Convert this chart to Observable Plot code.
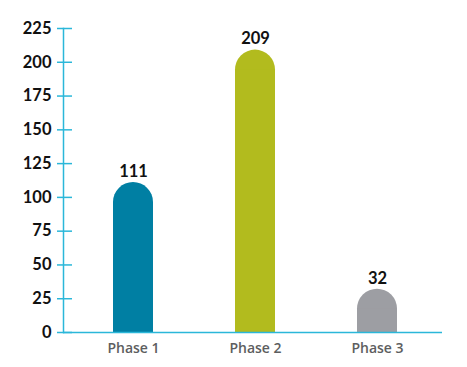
<!DOCTYPE html>
<html>
<head>
<meta charset="utf-8">
<script src="https://cdn.jsdelivr.net/npm/d3@7"></script>
<script src="https://cdn.jsdelivr.net/npm/@observablehq/plot@0.6"></script>
<style>
  html, body { margin: 0; padding: 0; background: #fff; }
</style>
</head>
<body>
<div id="chart"></div>
<script>
const phases = ["Phase 1", "Phase 2", "Phase 3"];
const values = [111, 209, 32];
const colors = ["#007fa3", "#b2bb1e", "#9d9ea3"];
const yTicks = [0, 25, 50, 75, 100, 125, 150, 175, 200, 225];

const data = phases.map((p, i) => ({phase: p, value: values[i], color: colors[i]}));
const axisColor = "#2bb7d9";

const chart = Plot.plot({
  width: 467,
  height: 367,
  marginLeft: 63,
  marginRight: 25,
  marginTop: 28,
  marginBottom: 35,
  style: {fontFamily: "Lato, sans-serif", background: "#fff"},
  x: {domain: phases, range: [72, 438], padding: 0, label: null},
  y: {domain: [0, 225], label: null},
  marks: [
    // rounded top part
    Plot.barY(data, {x: "phase", y: "value", fill: "color", insetLeft: 41, insetRight: 41, rx: 20, ry: 20}),
    // square bottom part
    Plot.barY(data, {x: "phase", y: "value", fill: "color", insetLeft: 41, insetRight: 41, insetTop: 20}),
    Plot.text(data, {x: "phase", y: "value", text: d => String(d.value), dy: -11, fontSize: 16.5, fontWeight: 700, fill: "#111"}),
    Plot.ruleY(yTicks, {stroke: axisColor, strokeWidth: 1.5, insetLeft: -6, insetRight: 370}),
    Plot.ruleY([0], {stroke: axisColor, strokeWidth: 1.5}),
    Plot.frame({anchor: "left", stroke: axisColor, strokeWidth: 1.5}),
    Plot.axisY({ticks: yTicks, tickSize: 0, tickPadding: 12, tickFormat: d => String(d), fontSize: 16.5, fontWeight: 700, fill: "#111", label: null}),
    Plot.axisX({tickSize: 0, tickPadding: 11, fontSize: 14, fontWeight: 600, fill: "#5d5e60", fontFamily: "'Open Sans', sans-serif", label: null})
  ]
});
document.getElementById("chart").appendChild(chart);
</script>
</body>
</html>
